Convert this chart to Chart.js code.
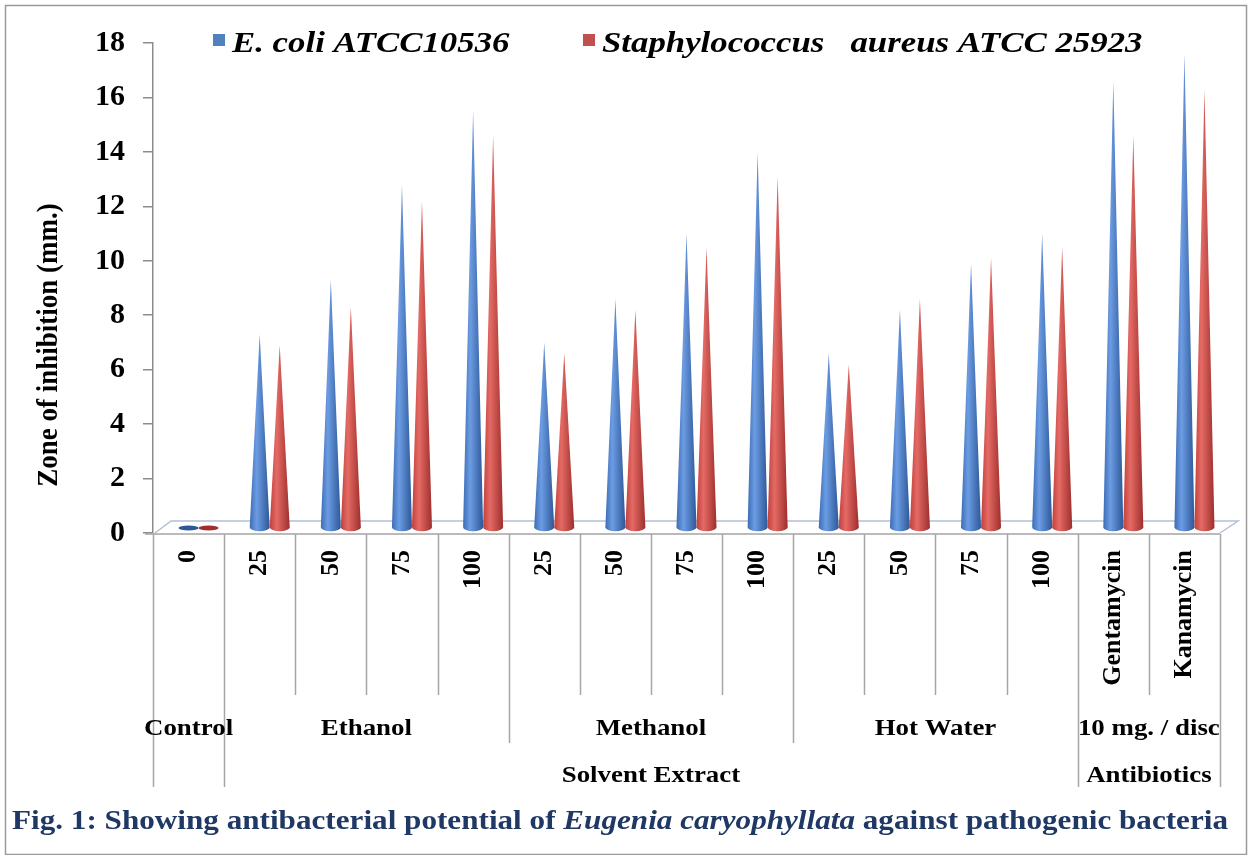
<!DOCTYPE html>
<html>
<head>
<meta charset="utf-8">
<script src="https://cdn.jsdelivr.net/npm/chart.js@4.4.1/dist/chart.umd.min.js"></script>
<style>
html, body { margin: 0; padding: 0; background: #fff; }
</style>
</head>
<body>
<canvas id="chart" width="1252" height="855"></canvas>
<script>
// level 1, 2 and 3 of the category axis
var concentrations = ['0', '25', '50', '75', '100', '25', '50', '75', '100', '25', '50', '75', '100', 'Gentamycin', 'Kanamycin'];
var extractGroups = ['Control', 'Ethanol', 'Methanol', 'Hot Water', '10 mg. / disc'];
var extractSpans = [1, 4, 4, 4, 2];
var typeGroups = ['', 'Solvent Extract', 'Antibiotics'];
var typeSpans = [1, 12, 2];

var seriesNames = ['E. coli ATCC10536', 'Staphylococcus   aureus ATCC 25923'];
var ecoli = [0, 7.3, 9.3, 12.8, 15.5, 7.0, 8.6, 11.0, 14.0, 6.6, 8.2, 9.9, 11.0, 16.6, 17.6];
var saureus = [0, 6.9, 8.3, 12.2, 14.6, 6.6, 8.2, 10.5, 13.1, 6.2, 8.6, 10.1, 10.5, 14.6, 16.3];

var captionParts = [
  ['Fig. 1: Showing antibacterial potential of ', false],
  ['Eugenia caryophyllata', true],
  [' against pathogenic bacteria', false]
];

var SERIF = '"Liberation Serif", "Times New Roman", serif';
var STRETCH = 1.12;
var coneShades = [
  ['#3C6CB3', '#6C9CE3', '#2D5898'],
  ['#C0403C', '#E56A65', '#9E2F2C']
];
var legendColors = ['#4F81BD', '#C0504D'];

function stretchText(ctx, text, x, y, align, sx) {
  ctx.save();
  ctx.translate(x, y);
  ctx.scale(sx, 1);
  ctx.textAlign = align;
  ctx.fillText(text, 0, 0);
  ctx.restore();
}

function drawCone(ctx, cx, baseY, tipY, rx, ry, shade) {
  var g = ctx.createLinearGradient(cx - rx, 0, cx + rx, 0);
  g.addColorStop(0, shade[0]);
  g.addColorStop(0.35, shade[1]);
  g.addColorStop(1, shade[2]);
  ctx.fillStyle = g;
  ctx.beginPath();
  if (baseY - tipY < 1) {
    ctx.ellipse(cx, baseY, rx, 2.5, 0, 0, Math.PI * 2);
    ctx.fillStyle = shade[2];
  } else {
    ctx.moveTo(cx - rx, baseY);
    ctx.lineTo(cx, tipY);
    ctx.lineTo(cx + rx, baseY);
    ctx.ellipse(cx, baseY, rx, ry, 0, 0, Math.PI, false);
    ctx.closePath();
  }
  ctx.fill();
}

var figurePlugin = {
  id: 'figure',
  beforeDraw: function (chart) {
    var ctx = chart.ctx;
    ctx.save();
    ctx.fillStyle = '#fff';
    ctx.fillRect(0, 0, chart.width, chart.height);
    ctx.strokeStyle = '#9a9a9a';
    ctx.lineWidth = 1.5;
    ctx.strokeRect(5.5, 5.5, chart.width - 11, chart.height - 6);
    ctx.restore();
  },
  beforeDatasetsDraw: function (chart) {
    // 3-D floor
    var ctx = chart.ctx, a = chart.chartArea;
    var d = 18, h = 12;
    ctx.save();
    ctx.lineWidth = 1.5;
    ctx.strokeStyle = '#b3c0d6';
    ctx.beginPath();
    ctx.moveTo(a.left + 2, a.bottom);
    ctx.lineTo(a.left + d, a.bottom - h);
    ctx.lineTo(a.right + d, a.bottom - h);
    ctx.lineTo(a.right, a.bottom);
    ctx.stroke();
    ctx.strokeStyle = '#a3a3a3';
    ctx.beginPath();
    ctx.moveTo(a.left - 8, a.bottom + 1);
    ctx.lineTo(a.right, a.bottom + 1);
    ctx.stroke();
    ctx.restore();
  },
  afterDatasetsDraw: function (chart) {
    var ctx = chart.ctx;
    ctx.save();
    chart.data.datasets.forEach(function (ds, di) {
      var meta = chart.getDatasetMeta(di);
      meta.data.forEach(function (bar) {
        var rx = bar.width / 2;
        drawCone(ctx, bar.x + rx, bar.base - 5, bar.y, rx, 4, coneShades[di]);
      });
    });
    ctx.restore();
  },
  afterDraw: function (chart) {
    var ctx = chart.ctx, a = chart.chartArea;
    var x = chart.scales.x;
    var n = concentrations.length;
    var step = (a.right - a.left) / n;
    function edge(k) { return x.getPixelForValue(0) - step / 2 + k * step; }

    // how far down each category edge runs
    var typeEdges = [0], extractEdges = [0], s = 0, i;
    for (i = 0; i < typeSpans.length; i++) { s += typeSpans[i]; typeEdges.push(s); }
    s = 0;
    for (i = 0; i < extractSpans.length; i++) { s += extractSpans[i]; extractEdges.push(s); }

    ctx.save();
    ctx.strokeStyle = '#a6a6a6';
    ctx.lineWidth = 1.5;
    for (var k = 0; k <= n; k++) {
      var yEnd = a.bottom + 162;
      if (typeEdges.indexOf(k) >= 0) yEnd = a.bottom + 254;
      else if (extractEdges.indexOf(k) >= 0) yEnd = a.bottom + 210;
      var px = Math.round(edge(k)) + 0.5;
      ctx.beginPath();
      ctx.moveTo(px, a.bottom + 1);
      ctx.lineTo(px, yEnd);
      ctx.stroke();
    }

    ctx.fillStyle = '#000';
    ctx.font = 'bold 24px ' + SERIF;
    var start = 0;
    extractGroups.forEach(function (g, gi) {
      var mid = (edge(start) + edge(start + extractSpans[gi])) / 2;
      stretchText(ctx, g, mid, a.bottom + 202, 'center', STRETCH);
      start += extractSpans[gi];
    });
    start = 0;
    typeGroups.forEach(function (g, gi) {
      var mid = (edge(start) + edge(start + typeSpans[gi])) / 2;
      if (g) stretchText(ctx, g, mid, a.bottom + 249, 'center', STRETCH);
      start += typeSpans[gi];
    });

    // y axis title
    ctx.save();
    ctx.translate(49, (a.top + a.bottom) / 2 + 57);
    ctx.scale(STRETCH, 1);
    ctx.rotate(-Math.PI / 2);
    ctx.font = 'bold 27px ' + SERIF;
    ctx.textAlign = 'center';
    ctx.textBaseline = 'middle';
    ctx.fillText('Zone of inhibition (mm.)', 0, 0);
    ctx.restore();

    // legend
    ctx.font = 'italic bold 30px ' + SERIF;
    var legendX = [213, 583];
    chart.data.datasets.forEach(function (ds, di) {
      ctx.fillStyle = legendColors[di];
      ctx.fillRect(legendX[di], a.top - 9, 12, 12);
      ctx.fillStyle = '#000';
      stretchText(ctx, ds.label, legendX[di] + 19, a.top + 9, 'left', 1.16);
    });

    // caption
    var fonts = ['bold 28px ' + SERIF, 'italic bold 28px ' + SERIF];
    var total = 0;
    captionParts.forEach(function (p) {
      ctx.font = fonts[p[1] ? 1 : 0];
      total += ctx.measureText(p[0]).width;
    });
    var sx = (chart.width - 36) / total;
    var cx = 12;
    ctx.fillStyle = '#1f3864';
    captionParts.forEach(function (p) {
      ctx.font = fonts[p[1] ? 1 : 0];
      stretchText(ctx, p[0], cx, chart.height - 26, 'left', sx);
      cx += ctx.measureText(p[0]).width * sx;
    });
    ctx.restore();
  }
};

var ctx = document.getElementById('chart').getContext('2d');
var chart = new Chart(ctx, {
  type: 'bar',
  data: {
    labels: concentrations,
    datasets: [
      { label: seriesNames[0], data: ecoli, backgroundColor: 'rgba(0,0,0,0)', borderWidth: 0 },
      { label: seriesNames[1], data: saureus, backgroundColor: 'rgba(0,0,0,0)', borderWidth: 0 }
    ]
  },
  options: {
    responsive: false,
    animation: false,
    devicePixelRatio: 1,
    layout: { padding: { top: 43, right: 32, left: 0, bottom: 0 } },
    datasets: { bar: { categoryPercentage: 0.5625, barPercentage: 1 } },
    plugins: { legend: { display: false }, tooltip: { enabled: false } },
    scales: {
      x: {
        offset: true,
        grid: { display: false, drawTicks: false },
        border: { display: false },
        ticks: {
          autoSkip: false, minRotation: 90, maxRotation: 90, padding: 17, color: '#000',
          font: { family: SERIF, size: 26, weight: 'bold' }
        },
        afterFit: function (s) { s.height = 322; }
      },
      y: {
        min: 0,
        max: 18,
        ticks: { stepSize: 2, padding: 18, color: '#000', font: { family: SERIF, size: 30, weight: 'bold' } },
        grid: { drawOnChartArea: false, tickLength: 10, color: '#8c8c8c', lineWidth: 1.5 },
        border: { color: '#8c8c8c', width: 1.5 },
        afterFit: function (s) { s.width = 153; }
      }
    }
  },
  plugins: [figurePlugin]
});
</script>
</body>
</html>
